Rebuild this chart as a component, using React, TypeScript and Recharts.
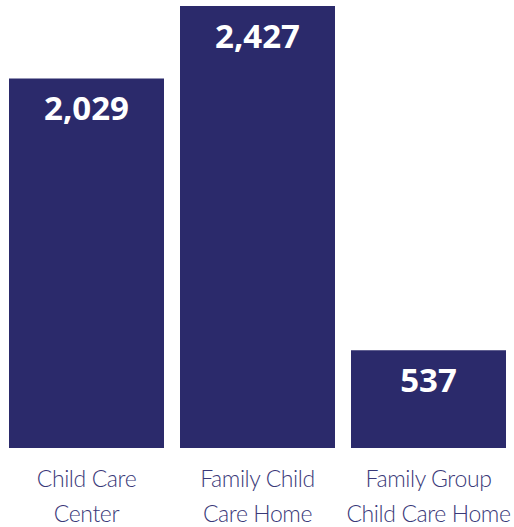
import { BarChart, Bar, XAxis, YAxis, LabelList } from 'recharts';

const CATEGORIES = ['Child Care Center', 'Family Child Care Home', 'Family Group Child Care Home'];
const TICK_LINES = [
  ['Child Care', 'Center'],
  ['Family Child', 'Care Home'],
  ['Family Group', 'Child Care Home'],
];
const COUNTS = [2029, 2427, 537];

const data = CATEGORIES.map((name, i) => ({ name, count: COUNTS[i], lines: TICK_LINES[i] }));

const NAVY = '#2b2a6b';
const TICK_COLOR = '#3a3979';

function CategoryTick(props: any) {
  const { x, y, index } = props;
  const lines = TICK_LINES[index] || [];
  return (
    <text
      x={x}
      y={y}
      textAnchor="middle"
      fill={TICK_COLOR}
      fontFamily="Lato, 'Open Sans', sans-serif"
      fontWeight={300}
      fontSize={23}
      letterSpacing={-0.4}
    >
      {lines.map((line, i) => (
        <tspan key={i} x={x} dy={i === 0 ? 31 : 35}>
          {line}
        </tspan>
      ))}
    </text>
  );
}

function ValueLabel(props: any) {
  const { x, y, width, value } = props;
  return (
    <text
      x={x + width / 2}
      y={y + 42}
      textAnchor="middle"
      fill="#ffffff"
      fontFamily="'Open Sans', sans-serif"
      fontWeight={700}
      fontSize={33}
    >
      {Number(value).toLocaleString('en-US')}
    </text>
  );
}

export default function App() {
  return (
    <div style={{ position: 'absolute', left: 0, top: 0, width: 514, height: 527, background: '#fff' }}>
      <BarChart
        width={514}
        height={527}
        data={data}
        margin={{ top: 6, right: 0, bottom: 0, left: 1 }}
        barCategoryGap={8}
      >
        <XAxis
          dataKey="name"
          axisLine={false}
          tickLine={false}
          interval={0}
          height={79}
          tick={<CategoryTick />}
        />
        <YAxis hide domain={[0, 2427]} />
        <Bar dataKey="count" fill={NAVY} isAnimationActive={false}>
          <LabelList dataKey="count" content={<ValueLabel />} />
        </Bar>
      </BarChart>
    </div>
  );
}
